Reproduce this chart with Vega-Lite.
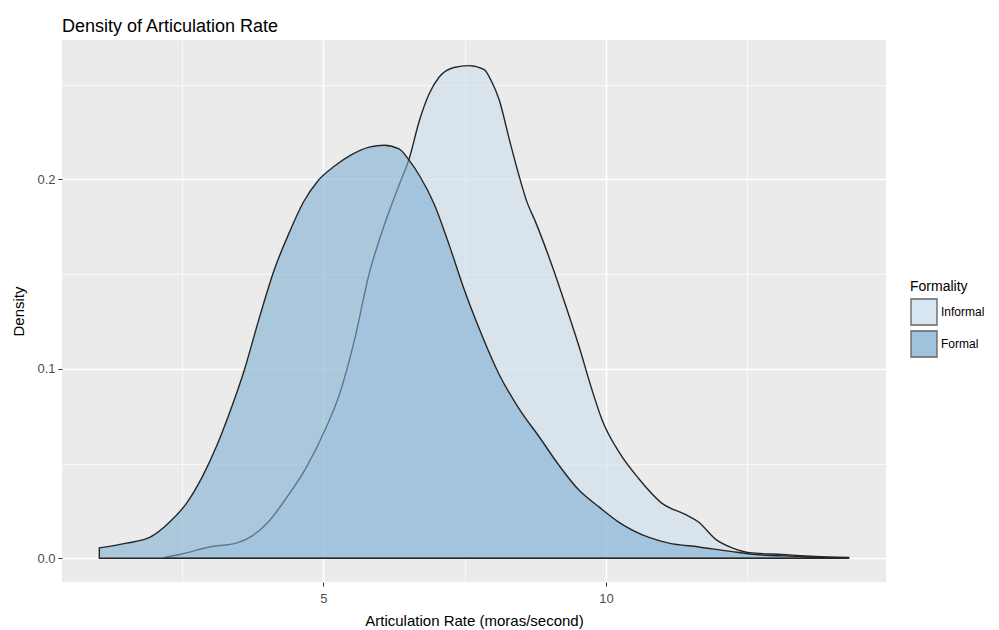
{
  "$schema": "https://vega.github.io/schema/vega-lite/v6.json",
  "width": 824,
  "height": 542,
  "autosize": {"type": "none"},
  "padding": {"left": 62, "top": 40, "right": 113, "bottom": 48},
  "background": "white",
  "config": {
    "font": "Liberation Sans",
    "view": {"fill": "#ebebeb", "stroke": null}
  },
  "title": {
    "text": "Density of Articulation Rate",
    "anchor": "start",
    "frame": "group",
    "fontSize": 18,
    "fontWeight": "normal",
    "font": "Liberation Sans",
    "color": "#000000",
    "baseline": "bottom",
    "offset": 8,
    "dy": 22
  },
  "data": {
    "values": [
      {"Formality": "Informal", "rate": 2.19, "density": 0.0005},
      {"Formality": "Informal", "rate": 2.46, "density": 0.002},
      {"Formality": "Informal", "rate": 2.99, "density": 0.006},
      {"Formality": "Informal", "rate": 3.46, "density": 0.008},
      {"Formality": "Informal", "rate": 3.75, "density": 0.012},
      {"Formality": "Informal", "rate": 4.05, "density": 0.02},
      {"Formality": "Informal", "rate": 4.35, "density": 0.032},
      {"Formality": "Informal", "rate": 4.7, "density": 0.048},
      {"Formality": "Informal", "rate": 5.05, "density": 0.069},
      {"Formality": "Informal", "rate": 5.28, "density": 0.086},
      {"Formality": "Informal", "rate": 5.55, "density": 0.115},
      {"Formality": "Informal", "rate": 5.81, "density": 0.15},
      {"Formality": "Informal", "rate": 6.08, "density": 0.176},
      {"Formality": "Informal", "rate": 6.34, "density": 0.197},
      {"Formality": "Informal", "rate": 6.52, "density": 0.211},
      {"Formality": "Informal", "rate": 6.7, "density": 0.231},
      {"Formality": "Informal", "rate": 6.87, "density": 0.245},
      {"Formality": "Informal", "rate": 7.05, "density": 0.254},
      {"Formality": "Informal", "rate": 7.31, "density": 0.259},
      {"Formality": "Informal", "rate": 7.58, "density": 0.26},
      {"Formality": "Informal", "rate": 7.84, "density": 0.258},
      {"Formality": "Informal", "rate": 7.97, "density": 0.252},
      {"Formality": "Informal", "rate": 8.11, "density": 0.242},
      {"Formality": "Informal", "rate": 8.29, "density": 0.221},
      {"Formality": "Informal", "rate": 8.46, "density": 0.202},
      {"Formality": "Informal", "rate": 8.59, "density": 0.189},
      {"Formality": "Informal", "rate": 8.76, "density": 0.177},
      {"Formality": "Informal", "rate": 9.05, "density": 0.154},
      {"Formality": "Informal", "rate": 9.29, "density": 0.133},
      {"Formality": "Informal", "rate": 9.52, "density": 0.112},
      {"Formality": "Informal", "rate": 9.75, "density": 0.089},
      {"Formality": "Informal", "rate": 9.93, "density": 0.073},
      {"Formality": "Informal", "rate": 10.23, "density": 0.056},
      {"Formality": "Informal", "rate": 10.58, "density": 0.042},
      {"Formality": "Informal", "rate": 10.99, "density": 0.029},
      {"Formality": "Informal", "rate": 11.41, "density": 0.023},
      {"Formality": "Informal", "rate": 11.64, "density": 0.019},
      {"Formality": "Informal", "rate": 11.94, "density": 0.01},
      {"Formality": "Informal", "rate": 12.23, "density": 0.0055},
      {"Formality": "Informal", "rate": 12.53, "density": 0.003},
      {"Formality": "Informal", "rate": 13.11, "density": 0.002},
      {"Formality": "Informal", "rate": 13.7, "density": 0.001},
      {"Formality": "Informal", "rate": 14.29, "density": 0.0005},
      {"Formality": "Formal", "rate": 1.04, "density": 0.0055},
      {"Formality": "Formal", "rate": 1.52, "density": 0.008},
      {"Formality": "Formal", "rate": 1.93, "density": 0.011},
      {"Formality": "Formal", "rate": 2.28, "density": 0.019},
      {"Formality": "Formal", "rate": 2.58, "density": 0.029},
      {"Formality": "Formal", "rate": 2.86, "density": 0.043},
      {"Formality": "Formal", "rate": 3.11, "density": 0.059},
      {"Formality": "Formal", "rate": 3.32, "density": 0.075},
      {"Formality": "Formal", "rate": 3.6, "density": 0.099},
      {"Formality": "Formal", "rate": 3.87, "density": 0.127},
      {"Formality": "Formal", "rate": 4.13, "density": 0.152},
      {"Formality": "Formal", "rate": 4.4, "density": 0.172},
      {"Formality": "Formal", "rate": 4.65, "density": 0.188},
      {"Formality": "Formal", "rate": 4.9, "density": 0.199},
      {"Formality": "Formal", "rate": 5.2, "density": 0.207},
      {"Formality": "Formal", "rate": 5.5, "density": 0.213},
      {"Formality": "Formal", "rate": 5.81, "density": 0.217},
      {"Formality": "Formal", "rate": 6.08, "density": 0.218},
      {"Formality": "Formal", "rate": 6.34, "density": 0.216},
      {"Formality": "Formal", "rate": 6.52, "density": 0.21},
      {"Formality": "Formal", "rate": 6.7, "density": 0.202},
      {"Formality": "Formal", "rate": 6.96, "density": 0.187},
      {"Formality": "Formal", "rate": 7.23, "density": 0.165},
      {"Formality": "Formal", "rate": 7.49, "density": 0.142},
      {"Formality": "Formal", "rate": 7.76, "density": 0.121},
      {"Formality": "Formal", "rate": 8.11, "density": 0.097},
      {"Formality": "Formal", "rate": 8.46, "density": 0.079},
      {"Formality": "Formal", "rate": 8.82, "density": 0.064},
      {"Formality": "Formal", "rate": 9.17, "density": 0.049},
      {"Formality": "Formal", "rate": 9.52, "density": 0.036},
      {"Formality": "Formal", "rate": 9.88, "density": 0.027},
      {"Formality": "Formal", "rate": 10.23, "density": 0.019},
      {"Formality": "Formal", "rate": 10.76, "density": 0.011},
      {"Formality": "Formal", "rate": 11.11, "density": 0.008},
      {"Formality": "Formal", "rate": 11.64, "density": 0.006},
      {"Formality": "Formal", "rate": 12.23, "density": 0.0035},
      {"Formality": "Formal", "rate": 12.65, "density": 0.002},
      {"Formality": "Formal", "rate": 13.41, "density": 0.001},
      {"Formality": "Formal", "rate": 13.9, "density": 0.0003}
    ]
  },
  "mark": {
    "type": "area",
    "stroke": "#262626",
    "strokeWidth": 1.4,
    "fillOpacity": 0.6,
    "interpolate": "monotone"
  },
  "encoding": {
    "x": {
      "field": "rate",
      "type": "quantitative",
      "scale": {"domain": [0.38, 14.95], "nice": false, "zero": false},
      "axis": {
        "title": "Articulation Rate (moras/second)",
        "values": [2.5, 5, 7.5, 10, 12.5],
        "labelExpr": "datum.value % 5 === 0 ? datum.label : ''",
        "domain": false,
        "grid": true,
        "gridColor": "#ffffff",
        "gridWidth": {"condition": {"test": "datum.value % 5 === 0", "value": 1.5}, "value": 0.7},
        "tickColor": "#333333",
        "tickOpacity": {"condition": {"test": "datum.value % 5 === 0", "value": 1}, "value": 0},
        "tickSize": 4,
        "labelFontSize": 13,
        "labelColor": "#4d4d4d",
        "labelPadding": 6,
        "titleFontSize": 15,
        "titleFontWeight": "normal",
        "titleColor": "#000000",
        "titlePadding": 8
      }
    },
    "y": {
      "field": "density",
      "type": "quantitative",
      "stack": null,
      "scale": {"domain": [-0.0125, 0.2735], "nice": false, "zero": false},
      "axis": {
        "title": "Density",
        "values": [0, 0.05, 0.1, 0.15, 0.2, 0.25],
        "labelExpr": "round(datum.value * 100) % 10 === 0 ? format(datum.value, '.1f') : ''",
        "domain": false,
        "grid": true,
        "gridColor": "#ffffff",
        "gridWidth": {"condition": {"test": "round(datum.value * 100) % 10 === 0", "value": 1.5}, "value": 0.7},
        "tickColor": "#333333",
        "tickOpacity": {"condition": {"test": "round(datum.value * 100) % 10 === 0", "value": 1}, "value": 0},
        "tickSize": 4,
        "labelFontSize": 13,
        "labelColor": "#4d4d4d",
        "labelPadding": 3,
        "titleFontSize": 15,
        "titleFontWeight": "normal",
        "titleColor": "#000000",
        "titlePadding": 10
      }
    },
    "color": {
      "field": "Formality",
      "type": "nominal",
      "sort": ["Informal", "Formal"],
      "scale": {"domain": ["Informal", "Formal"], "range": ["#cbdeed", "#80afd2"]},
      "legend": {
        "title": "Formality",
        "orient": "none",
        "legendX": 848,
        "legendY": 240,
        "symbolType": "square",
        "symbolSize": 676,
        "symbolStrokeColor": "#2b2b2b",
        "symbolStrokeWidth": 1.3,
        "symbolOpacity": 0.75,
        "rowPadding": 0,
        "labelFontSize": 12,
        "labelColor": "#000000",
        "titleFontSize": 14,
        "titleFontWeight": "normal",
        "titleColor": "#000000",
        "titlePadding": 4,
        "labelOffset": 3
      }
    }
  }
}
